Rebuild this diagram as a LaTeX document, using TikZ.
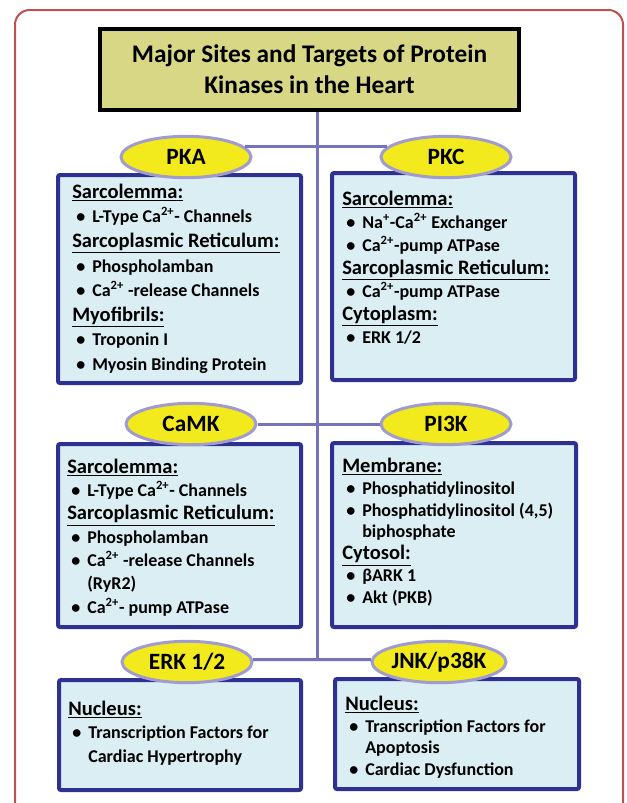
\documentclass[tikz,border=0pt]{standalone}
\usepackage{fontspec}
\setmainfont{Carlito}
\usetikzlibrary{shapes.geometric}
\definecolor{redframe}{HTML}{C0504D}
\definecolor{titlefill}{HTML}{D7D785}
\definecolor{kinfill}{HTML}{F2EA1C}
\definecolor{kinedge}{HTML}{A09CCF}
\definecolor{wirecol}{HTML}{7473BC}
\definecolor{boxfill}{HTML}{DBEEF3}
\definecolor{boxedge}{HTML}{2E3192}
\newcommand{\caion}{Ca\textsuperscript{2+}}
\newcommand{\hdr}[1]{{\fontsize{15.4}{18}\selectfont\underline{#1}}}
\newcommand{\itm}{\hspace*{3pt}\makebox[12pt][l]{\textbullet}}
\newcommand{\cnt}{\hspace*{15pt}}

\begin{document}
\begin{tikzpicture}[x=0.75pt,y=-0.75pt,
	kinase/.style={ellipse,draw=kinedge,fill=kinfill,line width=2.25pt,minimum width=97.5pt,minimum height=31pt,inner sep=0pt,font=\bfseries\fontsize{17.5}{20}\selectfont},
	sitebox/.style={draw=boxedge,fill=boxfill,line width=3pt,rounded corners=1.5pt,minimum width=182.25pt,inner sep=0pt},
	sites/.style={anchor=north west,align=left,inner sep=0pt,font=\bfseries\fontsize{13.5}{#1}\selectfont},
	wire/.style={draw=wirecol,line width=2.25pt}]
\useasboundingbox (0,0) rectangle (626,803);
\draw[draw=redframe,line width=1.5pt,rounded corners=11pt] (15,10) rectangle (623,840);

\node[draw=black,fill=titlefill,line width=3pt,minimum width=314pt,minimum height=60.75pt,align=center,font=\bfseries\fontsize{19}{23}\selectfont] (title) at (309.5,69.5) {Major Sites and Targets of Protein\\Kinases in the Heart};

\node[sitebox,minimum height=156pt] (pkabox) at (179.5,279) {};
\node[sitebox,minimum height=155.25pt] (pkcbox) at (453.5,276.5) {};
\node[sitebox,minimum height=137.25pt] (camkbox) at (179.5,535.5) {};
\node[sitebox,minimum width=183pt,minimum height=138pt] (pibox) at (454,535) {};
\node[sitebox,minimum width=181.5pt,minimum height=82.5pt] (erkbox) at (180,735) {};
\node[sitebox,minimum width=183pt,minimum height=82.5pt] (jnkbox) at (457,734) {};

\coordinate (trunk) at (317,661);
\draw[wire] (title.south -| trunk) -- (trunk);

\node[kinase] (pka) at (186,157) {PKA};
\node[kinase] (pkc) at (446,157) {PKC};
\node[kinase] (camk) at (191,424) {CaMK};
\node[kinase] (pi3k) at (446,424) {PI3K};
\node[kinase] (erk) at (187,662) {ERK 1/2};
\node[kinase] (jnk) at (439,662) {JNK/p38K};

\draw[wire] (pka.10) -- (pkc.170);
\draw[wire] (camk) -- (pi3k);
\draw[wire] (erk.2) -- (jnk.178);

\node[sites=18.45pt] (pkatext) at (72,183.6) {\hdr{Sarcolemma:}\\
	\itm L-Type \caion- Channels\\
	\hdr{Sarcoplasmic Reticulum:}\\
	\itm Phospholamban\\
	\itm \caion{} -release Channels\\
	\hdr{Myofibrils:}\\
	\itm Troponin I\\
	\itm Myosin Binding Protein};
\node[sites=17.25pt] (pkctext) at (342,190.6) {\hdr{Sarcolemma:}\\
	\itm Na\textsuperscript{+}-\caion{} Exchanger\\
	\itm \caion-pump ATPase\\
	\hdr{Sarcoplasmic Reticulum:}\\
	\itm \caion-pump ATPase\\
	\hdr{Cytoplasm:}\\
	\itm ERK 1/2};
\node[sites=17.5pt] (camktext) at (67,458.6) {\hdr{Sarcolemma:}\\
	\itm L-Type \caion- Channels\\
	\hdr{Sarcoplasmic Reticulum:}\\
	\itm Phospholamban\\
	\itm \caion{} -release Channels\\
	\cnt (RyR2)\\
	\itm \caion- pump ATPase};
\node[sites=16.4pt] (pitext) at (342,457.6) {\hdr{Membrane:}\\
	\itm Phosphatidylinositol\\
	\itm Phosphatidylinositol (4,5)\\
	\cnt biphosphate\\
	\hdr{Cytosol:}\\
	\itm βARK 1\\
	\itm Akt (PKB)};
\node[sites=17.6pt] (erktext) at (68,700.6) {\hdr{Nucleus:}\\
	\itm Transcription Factors for\\
	\cnt Cardiac Hypertrophy};
\node[sites=16.3pt] (jnktext) at (345,695.6) {\hdr{Nucleus:}\\
	\itm Transcription Factors for\\
	\cnt Apoptosis\\
	\itm Cardiac Dysfunction};
\end{tikzpicture}
\end{document}
